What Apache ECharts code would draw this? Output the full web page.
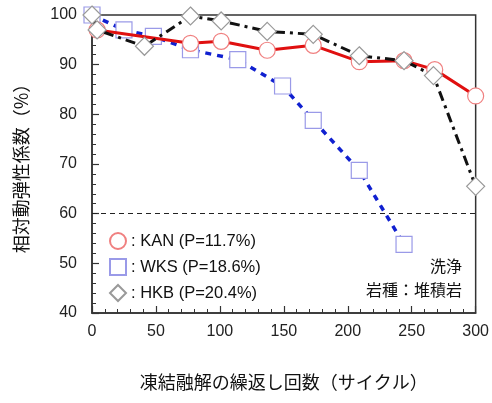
<!DOCTYPE html>
<html><head><meta charset="utf-8">
<script src="https://cdn.jsdelivr.net/npm/echarts@6/dist/echarts.min.js"></script>
<style>html,body{margin:0;padding:0;background:#fff}#c{width:492px;height:403px}</style>
</head><body><div id="c"></div>
<script>
const kanX = [4, 77, 101, 137, 173, 209, 244, 268, 300];
const kanY = [97, 94.3, 94.7, 92.9, 93.9, 90.6, 90.8, 89, 83.7];
const wksX = [0, 25, 48, 77, 114, 149, 173, 209, 244];
const wksY = [100, 97, 95.7, 93, 91, 85.7, 78.8, 68.7, 53.8];
const hkbX = [0, 4, 41, 77, 101, 137, 173, 209, 244, 267, 300];
const hkbY = [100, 97, 93.7, 99.8, 98.8, 96.7, 96.1, 91.8, 90.8, 87.8, 65.5];
const names = ['KAN (P=11.7%)', 'WKS (P=18.6%)', 'HKB (P=20.4%)'];
const xTicks = [0, 50, 100, 150, 200, 250, 300];
const yTicks = [40, 50, 60, 70, 80, 90, 100];
const limitY = 60;

const zip = (a, b) => a.map((v, i) => [v, b[i]]);
const chart = echarts.init(document.getElementById('c'));
const font = 'Liberation Sans, Arial, sans-serif';
const cjk = '"Noto Sans CJK JP", sans-serif';
chart.setOption({
  animation: false,
  grid: {left: 92, right: 16, top: 15, bottom: 90, show: true, borderColor: '#333', borderWidth: 1.5},
  xAxis: {
    type: 'value', min: xTicks[0], max: xTicks[xTicks.length - 1], interval: 50,
    name: '凍結融解の繰返し回数（サイクル）', nameLocation: 'middle', nameGap: 60,
    nameTextStyle: {fontFamily: cjk, fontSize: 18, color: '#111'},
    axisLine: {lineStyle: {color: '#333', width: 1.5}},
    axisTick: {inside: true, length: 7, lineStyle: {color: '#333', width: 1.2}},
    minorTick: {show: true, splitNumber: 5, length: 4, lineStyle: {color: '#333', width: 1}},
    splitLine: {show: false},
    axisLabel: {fontFamily: font, fontSize: 16, color: '#222', margin: 11}
  },
  yAxis: {
    type: 'value', min: yTicks[0], max: yTicks[yTicks.length - 1], interval: 10,
    name: '相対動弾性係数（%）', nameLocation: 'middle', nameGap: 62, nameRotate: 90,
    nameTextStyle: {fontFamily: cjk, fontSize: 18, color: '#111'},
    axisLine: {lineStyle: {color: '#333', width: 1.5}},
    axisTick: {inside: true, length: 7, lineStyle: {color: '#333', width: 1.2}},
    minorTick: {show: true, splitNumber: 5, length: 4, lineStyle: {color: '#333', width: 1}},
    splitLine: {show: false},
    axisLabel: {fontFamily: font, fontSize: 16, color: '#222', margin: 15}
  },
  legend: {
    orient: 'vertical', left: 104, top: 227, itemGap: 8, itemWidth: 16, itemHeight: 16,
    textStyle: {fontFamily: font, fontSize: 16.5, color: '#111'},
    formatter: n => ': ' + n,
    data: [
      {name: names[0], icon: 'circle'},
      {name: names[1], icon: 'rect'},
      {name: names[2], icon: 'diamond'}
    ]
  },
  graphic: [
    {type: 'text', right: 30, top: 258, style: {text: '洗浄', font: '16px "Noto Sans CJK JP"', fill: '#111', textAlign: 'right'}},
    {type: 'text', right: 30, top: 282, style: {text: '岩種：堆積岩', font: '16px "Noto Sans CJK JP"', fill: '#111', textAlign: 'right'}}
  ],
  series: [
    {
      name: names[0], type: 'line', data: zip(kanX, kanY), z: 3,
      symbol: 'circle', symbolSize: 16,
      lineStyle: {color: '#e01010', width: 3},
      itemStyle: {color: '#fff', borderColor: '#f08080', borderWidth: 1.2},
      markLine: {silent: true, symbol: 'none', label: {show: false},
        lineStyle: {color: '#222', type: [5, 4], width: 1.2},
        data: [{yAxis: limitY}]}
    },
    {
      name: names[1], type: 'line', data: zip(wksX, wksY), z: 2,
      symbol: 'rect', symbolSize: 16,
      lineStyle: {color: '#1020d0', width: 3.5, type: [6, 6]},
      itemStyle: {color: '#fff', borderColor: '#9a9ae8', borderWidth: 1.2}
    },
    {
      name: names[2], type: 'line', data: zip(hkbX, hkbY), z: 4,
      symbol: 'diamond', symbolSize: 18,
      lineStyle: {color: '#111', width: 3, type: [10, 5, 3, 5]},
      itemStyle: {color: '#fff', borderColor: '#999', borderWidth: 1.2}
    }
  ]
});
</script></body></html>
